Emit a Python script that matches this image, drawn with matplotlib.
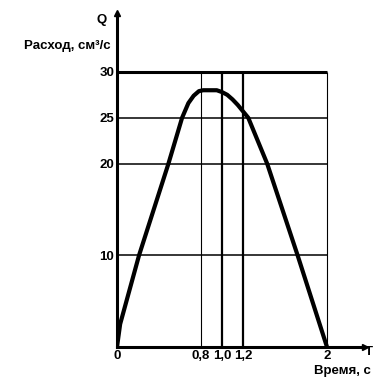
import matplotlib.pyplot as plt

# flow curve
t = [0, 0.03, 0.21, 0.49, 0.62, 0.68, 0.73, 0.78, 0.82, 0.95, 1.0, 1.05, 1.1, 1.15, 1.2,
     1.25, 1.43, 1.72, 2.0]
q = [0, 2.5, 10, 20, 25, 26.6, 27.4, 27.9, 28, 28, 27.8, 27.5, 27, 26.4, 25.7,
     25, 20, 10, 0]

x_ticks = [0, 0.8, 1.0, 1.2, 2]
x_labels = ['0', '0,8', '1,0', '1,2', '2']
y_ticks = [10, 20, 25, 30]
y_labels = ['10', '20', '25', '30']
grid_y = [10, 20, 25, 30]
grid_x = [0.8, 1.0, 1.2, 2]

plt.rcParams['font.family'] = ['Liberation Sans', 'DejaVu Sans']
plt.rcParams['font.weight'] = 'bold'

fig = plt.figure(figsize=(3.73, 3.79), dpi=100)
W, H = 373, 379
ax = fig.add_axes([117 / W, 1 - 347 / H, (365 - 117) / W, (347 - 13) / H])
ax.set_xlim(0, (365 - 117) / 105)
ax.set_ylim(0, (347 - 13) / 9.17)

# grid box
for y in grid_y:
    ax.hlines(y, 0, 2, color='black', lw=2.2 if y == 30 else 1.1)
for x in grid_x:
    lw = 0.8 if x in (0.8, 2) else 1.6
    ax.vlines(x, 0, 30, color='black', lw=lw)

ax.plot(t, q, color='black', lw=3, solid_joinstyle='round')

for s in ['top', 'right']:
    ax.spines[s].set_visible(False)
for s in ['left', 'bottom']:
    ax.spines[s].set_linewidth(2.2)

# arrows at the axis ends
ax.plot(1, 0, '>k', ms=5, transform=ax.transAxes, clip_on=False)
ax.plot(0, 1, '^k', ms=5, transform=ax.transAxes, clip_on=False)

ax.set_xticks(x_ticks)
ax.set_xticklabels(x_labels)
ax.set_yticks(y_ticks)
ax.set_yticklabels(y_labels)
ax.tick_params(length=0, labelsize=9.5, pad=2)

fs = 9.5
fig.text(111 / W, 1 - 46 / H, 'Расход, см³/с', ha='right', va='center', fontsize=fs, fontweight='bold')
fig.text(102 / W, 1 - 20 / H, 'Q', ha='center', va='center', fontsize=fs, fontweight='bold')
fig.text(369 / W, 1 - 352 / H, 'T', ha='center', va='center', fontsize=fs, fontweight='bold')
fig.text(314 / W, 1 - 371 / H, 'Время, с', ha='left', va='center', fontsize=fs, fontweight='bold')

fig.savefig('out.png', dpi=100)
